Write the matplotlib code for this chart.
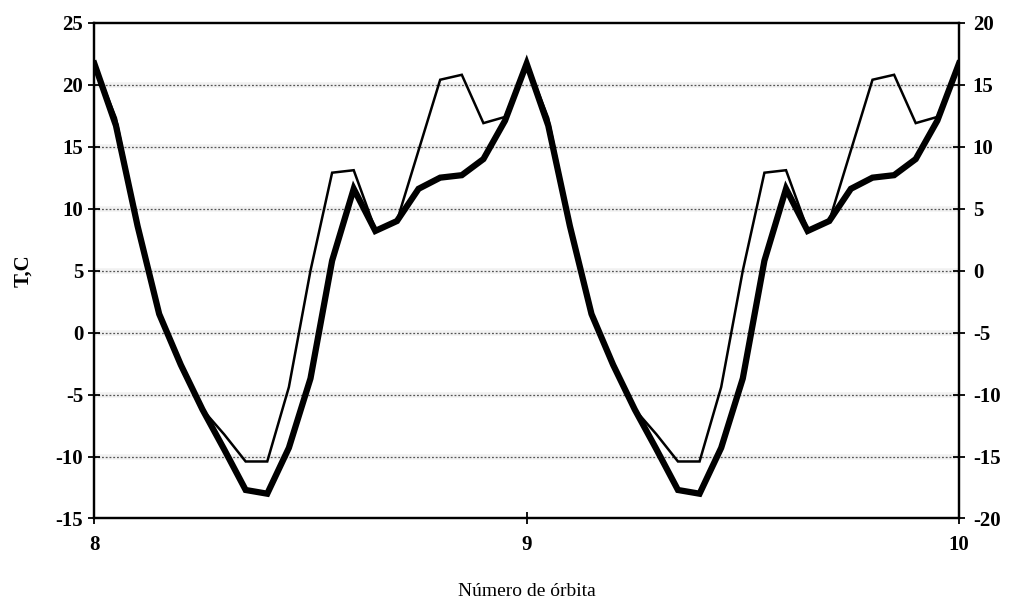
import numpy as np
import matplotlib
matplotlib.use("Agg")
import matplotlib.pyplot as plt

# Orbit number (20 samples per orbit)
orbit = np.round(np.linspace(8.0, 10.0, 41), 2)

# Temperature, thin curve (deg C)
temp_thin = [
    21.7, 17.3, 8.8, 1.5, -2.4, -6.2, -8.2, -10.4, -10.4, -4.4,
    5.0, 12.9, 13.1, 8.3, 9.0, 14.7, 20.4, 20.8, 16.9, 17.4,
    21.8, 17.3, 8.8, 1.5, -2.4, -6.2, -8.2, -10.4, -10.4, -4.4,
    5.0, 12.9, 13.1, 8.3, 9.0, 14.7, 20.4, 20.8, 16.9, 17.4,
    21.8,
]

# Temperature, thick curve (deg C)
temp_thick = [
    21.7, 16.7, 8.6, 1.5, -2.6, -6.2, -9.4, -12.7, -13.0, -9.3,
    -3.7, 5.8, 11.6, 8.2, 9.0, 11.6, 12.5, 12.7, 14.0, 17.1,
    21.7, 16.7, 8.6, 1.5, -2.6, -6.2, -9.4, -12.7, -13.0, -9.3,
    -3.7, 5.8, 11.6, 8.2, 9.0, 11.6, 12.5, 12.7, 14.0, 17.1,
    21.7,
]

left_ticks = [-15, -10, -5, 0, 5, 10, 15, 20, 25]
right_ticks = [-20, -15, -10, -5, 0, 5, 10, 15, 20]
x_ticks = [8, 9, 10]

plt.rcParams["font.family"] = ["Liberation Serif", "DejaVu Serif"]

fig = plt.figure(figsize=(10.09, 6.06), dpi=100)
ax = fig.add_axes([0.0935, 0.1444, 0.8569, 0.8181])

# dotted horizontal grid
for v in left_ticks[1:-1]:
    ax.axhline(v, color="#d8d8d8", lw=4, alpha=0.35, zorder=0)
    ax.axhline(v, color="#555555", lw=0.9, ls=(0, (1.5, 1.5)), zorder=1)

ax.plot(orbit, temp_thin, color="black", lw=1.8, zorder=3,
        solid_joinstyle="miter")
ax.plot(orbit, temp_thick, color="black", lw=4.5, zorder=2,
        solid_joinstyle="miter")

ax.set_xlim(8, 10)
ax.set_ylim(-15, 25)
ax.set_xticks(x_ticks)
ax.set_xticklabels([str(t) for t in x_ticks], fontsize=15, fontweight="bold")
ax.set_yticks(left_ticks)
ax.set_yticklabels([str(t) for t in left_ticks], fontsize=15, fontweight="bold")
ax.tick_params(axis="both", direction="inout", length=8, width=1.3, pad=4)
ax.tick_params(axis="x", pad=8)

for s in ax.spines.values():
    s.set_linewidth(1.6)
    s.set_color("black")

ax2 = ax.twinx()
ax2.set_ylim(-20, 20)
ax2.set_yticks(right_ticks)
ax2.set_yticklabels([str(t) for t in right_ticks], fontsize=15, fontweight="bold")
ax2.tick_params(axis="y", direction="inout", length=8, width=1.3, pad=6)
for s in ax2.spines.values():
    s.set_linewidth(1.6)

ax.set_ylabel("T,C", fontsize=15, fontweight="bold", labelpad=16)
ax.set_xlabel("Número de órbita", fontsize=14, labelpad=20)

fig.savefig("out.png", dpi=100)
